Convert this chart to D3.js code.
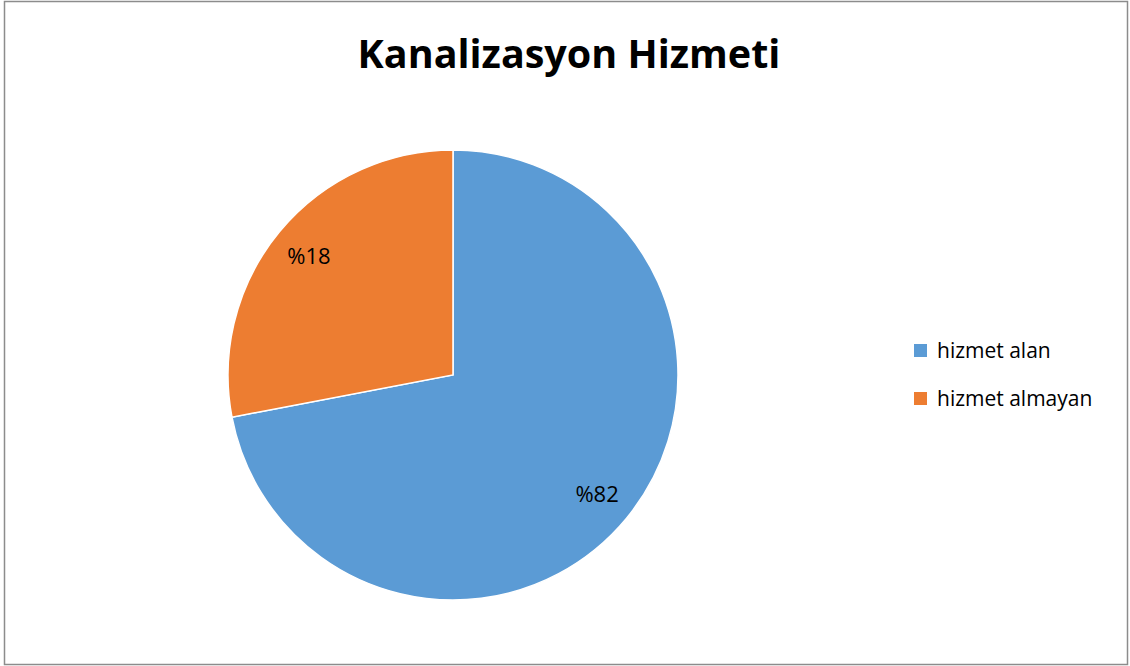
<!DOCTYPE html>
<html>
<head>
<meta charset="utf-8">
<script src="https://cdn.jsdelivr.net/npm/d3@7"></script>
<style>
  body { margin: 0; background: #fff; }
  text { font-family: "Open Sans", "Liberation Sans", sans-serif; }
</style>
</head>
<body>
<div id="chart-area"></div>
<script>
// data
var categories = ["hizmet alan", "hizmet almayan"];
var values = [72, 28];            // slice sizes as drawn
var labels = ["%82", "%18"];      // label text as printed on the chart
var colors = ["#5b9bd5", "#ed7d31"];

var width = 1130, height = 666;

var svg = d3.select("#chart-area")
    .append("svg")
        .attr("width", width)
        .attr("height", height);

// outer frame
svg.append("rect")
    .attr("x", 4.5)
    .attr("y", 1.5)
    .attr("width", 1123)
    .attr("height", 663)
    .attr("fill", "#fff")
    .attr("stroke", "#8c8c8c")
    .attr("stroke-width", 1.5);

svg.append("text")
    .attr("x", 569)
    .attr("y", 68)
    .attr("text-anchor", "middle")
    .attr("font-size", "39.5px")
    .attr("font-weight", "bold")
    .text("Kanalizasyon Hizmeti");

var radius = 225;
var g = svg.append("g")
    .attr("transform", "translate(453, 375)");

var pie = d3.pie().sort(null).value(function(d){ return d; });
var arcs = pie(values);

var arc = d3.arc().innerRadius(0).outerRadius(radius);
var labelArc = d3.arc().innerRadius(187).outerRadius(187);

g.selectAll("path")
    .data(arcs)
    .enter()
    .append("path")
        .attr("d", arc)
        .attr("fill", function(d, i){ return colors[i]; })
        .attr("stroke", "#fff")
        .attr("stroke-width", 1.5);

g.selectAll(".slice-label")
    .data(arcs)
    .enter()
    .append("text")
        .attr("class", "slice-label")
        .attr("transform", function(d){ return "translate(" + labelArc.centroid(d) + ")"; })
        .attr("text-anchor", "middle")
        .attr("dy", "0.35em")
        .attr("font-size", "22px")
        .attr("fill", "#000")
        .text(function(d, i){ return labels[i]; });

// legend
var legend = svg.append("g")
    .attr("transform", "translate(914, 344)");

var item = legend.selectAll("g")
    .data(categories)
    .enter()
    .append("g")
    .attr("transform", function(d, i){ return "translate(0," + (i * 48) + ")"; });

item.append("rect")
    .attr("width", 13)
    .attr("height", 13)
    .attr("fill", function(d, i){ return colors[i]; });

item.append("text")
    .attr("x", 23)
    .attr("y", 14)
    .attr("font-size", "21px")
    .text(function(d){ return d; });
</script>
</body>
</html>
